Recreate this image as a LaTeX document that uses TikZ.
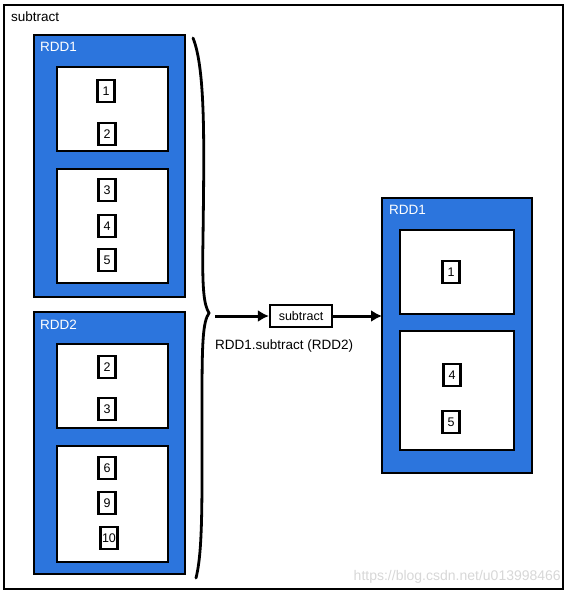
\documentclass[tikz,border=0pt]{standalone}
\usepackage{fontspec}
\setmainfont{Liberation Sans}
\usetikzlibrary{arrows.meta}
\definecolor{rddblue}{RGB}{44,117,221}
\definecolor{wm}{RGB}{215,215,215}
\begin{document}
\begin{tikzpicture}[x=1pt,y=-1pt,
  rdd/.style={draw=black,line width=2.2pt,fill=rddblue},
  part/.style={draw=black,line width=2.2pt,fill=white},
  item/.style={draw=black,line width=2.2pt,fill=white,minimum width=17pt,minimum height=22pt,inner sep=1.5pt,font=\fontsize{12.5}{14}\selectfont},
  lbl/.style={anchor=west,font=\fontsize{13.5}{15}\selectfont,inner sep=0pt},
  rddlbl/.style={anchor=west,text=white,font=\fontsize{13.5}{15}\selectfont,inner sep=0pt},
  conn/.style={line width=3pt,-{Latex[length=11pt,width=12pt]}}
]
\useasboundingbox (0,0) rectangle (569,595);
% outer frame
\draw[line width=1.8pt] (4,5) rectangle (563,589);
\node[lbl] (title) at (11,17) {subtract};
% left RDD1
\draw[rdd] (34,35) rectangle (185,297);
\node[rddlbl] (l1) at (40,47) {RDD1};
\draw[part] (57,67) rectangle (168,151);
\draw[part] (57,169) rectangle (168,283);
\node[item] (a1) at (106,91) {1};
\node[item] (a2) at (107,134) {2};
\node[item] (a3) at (107,190) {3};
\node[item] (a4) at (107,226) {4};
\node[item] (a5) at (107,260) {5};
% left RDD2
\draw[rdd] (34,312) rectangle (185,574);
\node[rddlbl] (l2) at (40,325) {RDD2};
\draw[part] (57,344) rectangle (168,428);
\draw[part] (57,446) rectangle (168,562);
\node[item] (b1) at (107,367) {2};
\node[item] (b2) at (107,409) {3};
\node[item] (b3) at (107,468) {6};
\node[item] (b4) at (107,503) {9};
\node[item] (b5) at (109,538) {10};
% brace
\draw[line width=2.8pt,line cap=round] (193,38) .. controls (206,70) and (204,150) .. (203,240)
  .. controls (202,290) and (204,305) .. (209,313)
  .. controls (203,322) and (202,340) .. (202,400)
  .. controls (202,500) and (203,550) .. (196,578);
% middle
\coordinate (s) at (215,316);
\node[draw=black,line width=2.2pt,fill=white,minimum width=62pt,minimum height=22pt,inner sep=1pt,font=\fontsize{12.5}{14}\selectfont] (op) at (301,316) {subtract};
\node[lbl] (cap) at (215,346) {RDD1.subtract (RDD2)};
% right RDD1
\draw[rdd] (382,198) rectangle (532,473);
\node[rddlbl] (r1) at (389,210) {RDD1};
\draw[part] (400,230) rectangle (514,314);
\draw[part] (400,331) rectangle (514,450);
\node[item] (c1) at (451,272) {1};
\node[item] (c2) at (452,375) {4};
\node[item] (c3) at (451,422) {5};
\coordinate (e) at (382,316);
\draw[conn] (s) -- (op.west);
\draw[conn] (op.east) -- (e);
% watermark
\node[anchor=east,text=wm,font=\fontsize{14}{16}\selectfont,inner sep=0pt] (wmk) at (561,577) {https://blog.csdn.net/u013998466};
\end{tikzpicture}
\end{document}
